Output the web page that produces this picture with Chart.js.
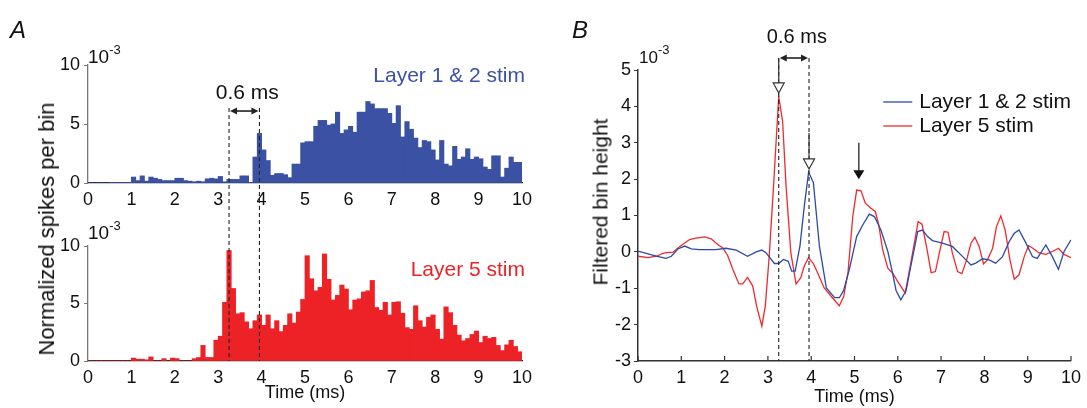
<!DOCTYPE html>
<html>
<head>
<meta charset="utf-8">
<script src="https://cdn.jsdelivr.net/npm/chart.js@4.4.0/dist/chart.umd.min.js"></script>
<style>
html, body { margin: 0; padding: 0; background: #fff; }
#page { position: relative; width: 1087px; height: 408px; overflow: hidden;
        font-family: "Liberation Sans", Arial, Helvetica, sans-serif; color: #111; }
.layer { position: absolute; left: 0; top: 0; width: 1087px; height: 408px; }
.txt { position: absolute; white-space: nowrap; line-height: 1; }
.panel { font-size: 24px; font-style: italic; }
.exp { font-size: 19px; }
.exp sup { font-size: 13px; position: relative; top: -2px; }
.ylab { transform: translate(-50%, -50%) rotate(-90deg); }
</style>
</head>
<body>
<div id="page">
  <div class="layer"><canvas id="cTop" width="1087" height="408"></canvas></div>
  <div class="layer"><canvas id="cBot" width="1087" height="408"></canvas></div>
  <div class="layer"><canvas id="cB" width="1087" height="408"></canvas></div>

  <div class="txt panel" style="left:10px; top:18px;">A</div>
  <div class="txt panel" style="left:572px; top:18px;">B</div>
  <div class="txt exp" style="left:88px; top:45px;">10<sup>-3</sup></div>
  <div class="txt exp" style="left:88px; top:221px;">10<sup>-3</sup></div>
  <div class="txt exp" style="left:639px; top:45px; font-size:17px;">10<sup>-3</sup></div>
  <div class="txt ylab" style="left:47px; top:229px; font-size:22px;">Normalized spikes per bin</div>
  <div class="txt ylab" style="left:600px; top:202px; font-size:21px;">Filtered bin height</div>
</div>

<script>
const FONT = '"Liberation Sans", Arial, Helvetica, sans-serif';
Chart.defaults.font.family = FONT;
Chart.defaults.color = '#111';
Chart.defaults.animation = false;

// ---- panel A: histograms, 0.1 ms bins from 0 to 10 ms (units of 1e-3)
const binWidth = 0.1;
const layer12Bins = [
  0, 0, 0, 0, 0, 0.05, 0.05, 0.05, 0.05, 0.05,
  0.5, 0.2, 0.6, 0.15, 0.5, 0.4, 0.3, 0.2, 0.2, 0.2,
  0.4, 0.4, 0.2, 0.15, 0.1, 0.15, 0.1, 0.35, 0.4, 0.35,
  0.55, 0.1, 0.3, 0.3, 0.3, 0.6, 0.6, 0.05, 2.2, 4.2,
  2.8, 1.9, 0.65, 0.8, 0.8, 0.7, 0.45, 1.6, 1.6, 3.4,
  3.5, 3.5, 4.8, 5.3, 5.3, 4.9, 5.0, 6.0, 4.2, 4.5,
  4.8, 4.3, 6.0, 6.0, 6.9, 6.7, 6.3, 6.3, 6.3, 5.9,
  5.05, 6.55, 3.9, 5.2, 4.55, 3.8, 3.0, 3.6, 3.5, 2.8,
  1.95, 3.6, 1.6, 1.45, 3.1, 2.0, 2.2, 2.9, 2.0, 2.2,
  2.05, 1.35, 1.15, 2.3, 2.3, 0.5, 1.25, 2.2, 1.75, 1.75
];
const layer5Bins = [
  0, 0, 0, 0, 0, 0, 0, 0, 0, 0,
  0.25, 0.15, 0.15, 0.1, 0.35, 0, 0, 0.2, 0, 0.25,
  0.2, 0, 0, 0, 0.2, 0.3, 1.35, 0.3, 0.3, 1.8,
  2.15, 5.1, 9.6, 6.3, 4.1, 4.2, 3.4, 2.8, 3.5, 4.0,
  3.1, 4.0, 2.8, 3.5, 2.55, 3.1, 4.1, 3.3, 4.25, 5.35,
  9.15, 7.15, 6.1, 6.4, 9.3, 7.1, 5.3, 5.7, 6.6, 6.25,
  4.45, 5.3, 5.4, 6.0, 6.1, 7.0, 4.65, 4.4, 5.1, 4.0,
  5.1, 5.15, 4.15, 2.9, 2.75, 4.8, 3.5, 2.95, 3.8, 4.0,
  2.75, 1.9, 4.7, 4.2, 3.1, 2.25, 1.75, 1.95, 2.3, 2.6,
  1.6, 2.15, 1.95, 2.05, 1.35, 0.9, 1.4, 1.8, 1.25, 0.8
];

// ---- panel B: filtered bin height (units of 1e-3)
const blueT = [0, 0.42, 0.65, 0.77, 0.92, 1.08, 1.23, 1.42, 1.8, 2.03, 2.27, 2.53, 2.73, 2.86, 2.96,
  3.15, 3.25, 3.36, 3.47, 3.55, 3.63, 3.74, 3.84, 3.94, 4.05, 4.19, 4.35, 4.54, 4.65, 4.75, 4.88,
  5.05, 5.19, 5.34, 5.46, 5.61, 5.77, 5.88, 5.96, 6.07, 6.19, 6.3, 6.46, 6.57, 6.69, 6.8, 7.03,
  7.26, 7.5, 7.69, 7.8, 7.96, 8.11, 8.26, 8.42, 8.57, 8.69, 8.8, 8.96, 9.11, 9.22, 9.42, 9.57,
  9.71, 9.84, 10];
const blueV = [0.02, -0.12, -0.18, -0.12, 0.08, 0.16, 0.08, 0.06, 0.06, 0.1, 0.05, -0.12, 0, 0.05, -0.03,
  -0.32, -0.32, -0.21, -0.26, -0.53, -0.53, 0.16, 1.25, 2.19, 1.91, 0.16, -0.99, -1.26, -1.26, -1.06, -0.49,
  0.42, 0.74, 1.04, 0.97, 0.6, 0.01, -0.59, -1.06, -1.32, -1.07, -0.4, 0.56, 0.6, 0.42, 0.31, 0.24,
  0.15, -0.13, -0.36, -0.31, -0.19, -0.22, -0.31, -0.13, 0.28, 0.51, 0.6, 0.24, -0.13, -0.18, 0.19, -0.13,
  -0.48, 0.01, 0.33];
const redT = [0, 0.23, 0.42, 0.61, 0.81, 0.96, 1.19, 1.34, 1.54, 1.69, 1.84, 1.96, 2.07, 2.19, 2.33,
  2.42, 2.53, 2.65, 2.74, 2.86, 2.94, 3.03, 3.13, 3.25, 3.34, 3.42, 3.53, 3.65, 3.76, 3.84, 3.94,
  4.05, 4.15, 4.3, 4.46, 4.65, 4.75, 4.85, 4.96, 5.05, 5.15, 5.25, 5.38, 5.48, 5.56, 5.65, 5.77,
  5.88, 6.0, 6.17, 6.3, 6.47, 6.56, 6.67, 6.77, 6.87, 6.96, 7.07, 7.16, 7.26, 7.38, 7.48, 7.59,
  7.69, 7.78, 7.88, 7.98, 8.07, 8.19, 8.28, 8.38, 8.48, 8.59, 8.69, 8.8, 8.92, 9.02, 9.12, 9.26,
  9.42, 9.57, 9.71, 9.84, 10];
const redV = [-0.12, -0.16, -0.12, -0.03, -0.01, 0.14, 0.34, 0.38, 0.41, 0.36, 0.2, 0.11, -0.1, -0.48, -0.88,
  -0.88, -0.7, -0.94, -1.49, -2.04, -1.49, -0.12, 1.8, 4.27, 3.59, 1.8, -0.03, -0.88, -0.71, -0.39, -0.16,
  -0.32, -0.58, -0.99, -1.22, -1.48, -1.23, -0.56, 0.97, 1.7, 1.68, 1.34, 1.2, 1.11, 0.74, 0.06, -0.45,
  -0.58, -0.82, -1.13, -0.31, 0.83, 0.76, 0.1, -0.57, -0.54, -0.03, 0.56, 0.54, -0.03, -0.54, -0.6, -0.22,
  0.24, 0.4, 0.15, -0.33, -0.22, 0.1, 0.7, 0.99, 0.6, -0.22, -0.75, -0.63, -0.13, 0.17, 0.1, -0.03,
  -0.07, 0.01, 0.1, -0.07, -0.16];

const seriesNames = ['Layer 1 & 2 stim', 'Layer 5 stim'];
const BLUE_BAR = '#3b51a3', RED_BAR = '#ec2227';
const BLUE_LINE = '#2d4aa6', RED_LINE = '#ee2a2e';

// annotation positions (data units)
const markTimes = [3.25, 3.95];
const spanText = '0.6 ms';
const aArrowLevel = 6.1, aTextLevel = 7.6;        // in top-histogram units
const bArrowLevel = 5.33, bTextLevel = 5.9;
const peakMarks = [{ t: 3.25, tip: 4.37, stemTop: 5.33 }, { t: 3.95, tip: 2.28, stemTop: 3.27 }];
const solidArrow = { t: 5.1, tip: 2.0, stemTop: 3.0 };

function toPoints(xs, ys) { return xs.map((x, i) => ({ x: x, y: ys[i] })); }
function binPoints(vals) { return vals.map((v, i) => ({ x: (i + 0.5) * binWidth, y: v })); }

function arrowHead(ctx, x, y, dir, len, half) {
  // dir: 'left' | 'right' | 'down'
  ctx.beginPath();
  if (dir === 'right') { ctx.moveTo(x, y); ctx.lineTo(x - len, y - half); ctx.lineTo(x - len, y + half); }
  else if (dir === 'left') { ctx.moveTo(x, y); ctx.lineTo(x + len, y - half); ctx.lineTo(x + len, y + half); }
  else { ctx.moveTo(x, y); ctx.lineTo(x - half, y - len); ctx.lineTo(x + half, y - len); }
  ctx.closePath();
}

function drawSpan(ctx, x0, x1, y, ty, font) {
  ctx.save();
  ctx.strokeStyle = '#222'; ctx.fillStyle = '#222'; ctx.lineWidth = 1.6;
  ctx.beginPath(); ctx.moveTo(x0 + 4, y); ctx.lineTo(x1 - 4, y); ctx.stroke();
  arrowHead(ctx, x0 + 1, y, 'left', 7, 3.5); ctx.fill();
  arrowHead(ctx, x1 - 1, y, 'right', 7, 3.5); ctx.fill();
  ctx.font = font; ctx.textAlign = 'center'; ctx.textBaseline = 'middle'; ctx.fillStyle = '#111';
  ctx.fillText(spanText, (x0 + x1) / 2 + 3, ty);
  ctx.restore();
}

function dashed(ctx, x, y0, y1) {
  ctx.save();
  ctx.strokeStyle = '#222'; ctx.lineWidth = 1.1; ctx.setLineDash([4, 3]);
  ctx.beginPath(); ctx.moveTo(x, y0); ctx.lineTo(x, y1); ctx.stroke();
  ctx.restore();
}

// inward x ticks
const inTicks = {
  id: 'inTicks',
  afterDatasetsDraw(chart, args, opts) {
    if (!opts.on) return;
    const { ctx, chartArea, scales: { x } } = chart;
    ctx.save(); ctx.strokeStyle = '#333'; ctx.lineWidth = 1.2;
    x.ticks.forEach(t => {
      const px = x.getPixelForValue(t.value);
      ctx.beginPath(); ctx.moveTo(px, chartArea.bottom); ctx.lineTo(px, chartArea.bottom - 5); ctx.stroke();
    });
    ctx.restore();
  }
};

// coloured label inside a histogram
const cornerLabel = {
  id: 'cornerLabel',
  afterDraw(chart, args, opts) {
    if (!opts.text) return;
    const { ctx, chartArea } = chart;
    ctx.save();
    ctx.font = '21px ' + FONT; ctx.fillStyle = opts.color;
    ctx.textAlign = 'right'; ctx.textBaseline = 'middle';
    ctx.fillText(opts.text, chartArea.right + 3, chartArea.top + opts.dy);
    ctx.restore();
  }
};

function histChart(id, vals, color, area, xHeight, withTitle) {
  return new Chart(document.getElementById(id), {
    type: 'bar',
    data: { datasets: [{ data: binPoints(vals), backgroundColor: color, borderWidth: 0,
      barPercentage: 1, categoryPercentage: 1, inflateAmount: 0.4 }] },
    options: {
      responsive: false,
      layout: { padding: area },
      plugins: { legend: { display: false }, tooltip: { enabled: false },
        cornerLabel: {}, inTicks: { on: false } },
      scales: {
        x: {
          type: 'linear', min: 0, max: 10, offset: false,
          grid: { display: false, drawTicks: false },
          border: { display: true, color: '#1a1a1a', width: 1.3 },
          ticks: { stepSize: 1, padding: 6, maxRotation: 0, font: { size: 18 }, color: '#111' },
          title: { display: withTitle, text: 'Time (ms)', font: { size: 18 }, padding: 0, color: '#111' },
          afterFit: s => { s.height = xHeight; }
        },
        y: {
          min: 0, max: 10,
          grid: { display: true, drawOnChartArea: false, tickLength: 4, color: '#777' },
          border: { display: true, color: '#777', width: 1.3 },
          ticks: { stepSize: 5, padding: 4, font: { size: 18 }, color: '#111' },
          afterFit: s => { s.width = 30; }
        }
      }
    },
    plugins: [cornerLabel, inTicks]
  });
}

const chartTop = histChart('cTop', layer12Bins, BLUE_BAR,
  { left: 58, right: 565, top: 65, bottom: 200 }, 25, false);
chartTop.options.plugins.cornerLabel = { text: seriesNames[0], color: BLUE_BAR, dy: 11 };
chartTop.update();

// dashed markers + 0.6 ms span across both histograms
const spanA = {
  id: 'spanA',
  afterDraw(chart) {
    const { ctx, chartArea, scales: { x } } = chart;
    const yTop = chartTop.scales.y;
    const px = markTimes.map(t => x.getPixelForValue(t));
    const ya = yTop.getPixelForValue(aArrowLevel);
    px.forEach(p => dashed(ctx, p, ya - 3, chartArea.bottom));
    drawSpan(ctx, px[0], px[1], ya, yTop.getPixelForValue(aTextLevel), '21px ' + FONT);
  }
};

const chartBot = histChart('cBot', layer5Bins, RED_BAR,
  { left: 58, right: 565, top: 246, bottom: 4 }, 43, true);
chartBot.options.plugins.cornerLabel = { text: seriesNames[1], color: RED_BAR, dy: 24 };
chartBot.config.plugins.push(spanA);
chartBot.update();

// ---- panel B
const bMarks = {
  id: 'bMarks',
  afterDatasetsDraw(chart) {
    const { ctx, chartArea, scales: { x, y } } = chart;
    const px = markTimes.map(t => x.getPixelForValue(t));
    const ya = y.getPixelForValue(bArrowLevel);
    px.forEach(p => dashed(ctx, p, ya, chartArea.bottom));
    drawSpan(ctx, px[0], px[1], ya, y.getPixelForValue(bTextLevel), '20px ' + FONT);

    ctx.save();
    ctx.strokeStyle = '#333'; ctx.lineWidth = 1.2;
    peakMarks.forEach(m => {
      const cx = x.getPixelForValue(m.t), tip = y.getPixelForValue(m.tip);
      ctx.beginPath(); ctx.moveTo(cx, y.getPixelForValue(m.stemTop)); ctx.lineTo(cx, tip - 10); ctx.stroke();
      arrowHead(ctx, cx, tip, 'down', 10, 5.5);
      ctx.fillStyle = '#fff'; ctx.fill(); ctx.stroke();
    });
    const ax = x.getPixelForValue(solidArrow.t), at = y.getPixelForValue(solidArrow.tip);
    ctx.lineWidth = 1.4;
    ctx.beginPath(); ctx.moveTo(ax, y.getPixelForValue(solidArrow.stemTop)); ctx.lineTo(ax, at - 8); ctx.stroke();
    arrowHead(ctx, ax, at, 'down', 9, 5.5); ctx.fillStyle = '#111'; ctx.fill();
    ctx.restore();
  },
  afterDraw(chart) {
    // legend
    const { ctx, chartArea } = chart;
    ctx.save();
    ctx.font = '21px ' + FONT; ctx.textBaseline = 'middle'; ctx.textAlign = 'left';
    const w = Math.max(...chart.data.datasets.map(d => ctx.measureText(d.label).width));
    const tx = chartArea.right - w, lx1 = tx - 7, lx0 = lx1 - 29;
    chart.data.datasets.forEach((d, i) => {
      const ly = chartArea.top + 32 + i * 24;
      ctx.strokeStyle = d.borderColor; ctx.lineWidth = 1.3;
      ctx.beginPath(); ctx.moveTo(lx0, ly); ctx.lineTo(lx1, ly); ctx.stroke();
      ctx.fillStyle = '#111'; ctx.fillText(d.label, tx, ly);
    });
    ctx.restore();
  }
};

const chartB = new Chart(document.getElementById('cB'), {
  type: 'line',
  data: {
    datasets: [
      { label: seriesNames[0], data: toPoints(blueT, blueV), borderColor: BLUE_LINE, borderWidth: 1.3,
        pointRadius: 0, tension: 0, fill: false },
      { label: seriesNames[1], data: toPoints(redT, redV), borderColor: RED_LINE, borderWidth: 1.3,
        pointRadius: 0, tension: 0, fill: false }
    ]
  },
  options: {
    responsive: false,
    layout: { padding: { left: 588, right: 15, top: 70, bottom: 0 } },
    plugins: { legend: { display: false }, tooltip: { enabled: false }, inTicks: { on: true } },
    scales: {
      x: {
        type: 'linear', min: 0, max: 10,
        grid: { display: false, drawTicks: false },
        border: { display: true, color: '#333', width: 1.5 },
        ticks: { stepSize: 1, padding: 6, maxRotation: 0, font: { size: 18 }, color: '#111' },
        title: { display: true, text: 'Time (ms)', font: { size: 18 }, padding: 0, color: '#111' },
        afterFit: s => { s.height = 47; }
      },
      y: {
        min: -3, max: 5,
        grid: { display: true, drawOnChartArea: false, tickLength: 4, color: '#333' },
        border: { display: true, color: '#333', width: 1.5 },
        ticks: { stepSize: 1, padding: 3, font: { size: 18 }, color: '#111' },
        afterFit: s => { s.width = 50; }
      }
    }
  },
  plugins: [inTicks, bMarks]
});
</script>
</body>
</html>
